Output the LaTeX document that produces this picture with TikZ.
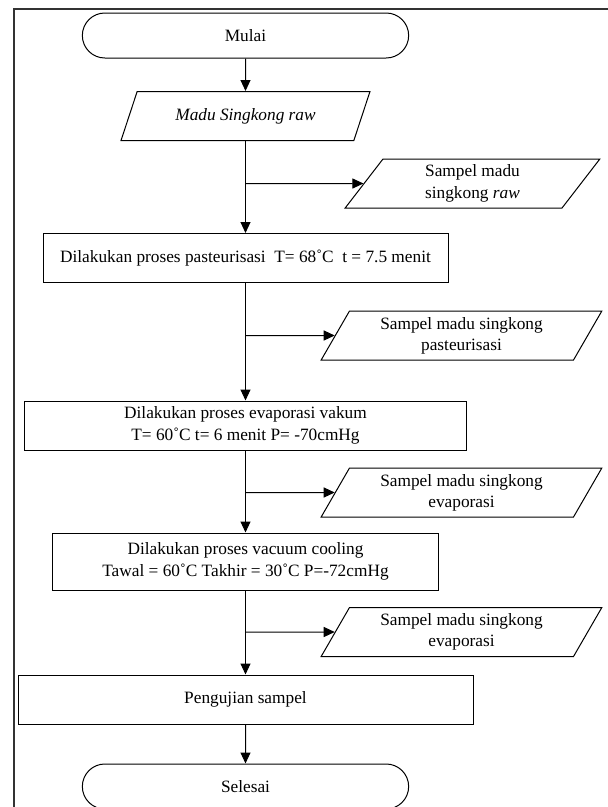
\documentclass[tikz,border=0pt]{standalone}
\usepackage{fontspec}
\setmainfont{Liberation Serif}
\usetikzlibrary{shapes.geometric,shapes.misc,arrows.meta}

\newcommand\spineX{245.5}

\tikzset{
  terminal/.style={draw, rounded rectangle, minimum width=333pt, minimum height=45pt},
  process/.style={draw, rectangle, align=center, minimum height=49pt},
  iobox/.style={draw, trapezium, trapezium left angle=63.9, trapezium right angle=116.1,
    trapezium stretches=true, align=center, minimum height=49pt},
  flow/.style={-{Triangle[length=11pt,width=10pt]}}
}

\begin{document}
\begin{tikzpicture}[x=1pt, y=-1pt, line width=1pt, font={\fontsize{17.3}{21.3}\selectfont}]
    % page and outer frame
    \useasboundingbox (0,0) rectangle (608,807);
    \clip (0,0) rectangle (608,807);
    \draw[line width=1.3pt, black!80] (14,9) rectangle (640,840);

    % main column
    \node[terminal] (start) at (\spineX,35.5) {Mulai};
    \node[iobox, minimum width=249pt] (raw) at (\spineX,116) {\textit{Madu Singkong raw}};
    \node[process, minimum width=405pt] (pasteur) at (\spineX,258)
      {Dilakukan proses pasteurisasi\ \ T= 68˚C\ \ t = 7.5 menit};
    \node[process, minimum width=442pt] (evap) at (\spineX,425.5)
      {Dilakukan proses evaporasi vakum\\T= 60˚C t= 6 menit P= -70cmHg};
    \node[process, minimum width=386pt, minimum height=57pt] (cool) at (\spineX,561.5)
      {Dilakukan proses vacuum cooling\\Tawal = 60˚C Takhir = 30˚C P=-72cmHg};
    \node[process, minimum width=455pt] (test) at (\spineX,699.5) {Pengujian sampel};
    \node[terminal] (stop) at (\spineX,786.5) {Selesai};

    % sample outputs
    \node[iobox, minimum width=255pt] (s1) at (472.5,183.5) {Sampel madu\\singkong \textit{raw}};
    \foreach \n/\y/\txt in {s2/335.5/pasteurisasi, s3/492.5/evaporasi, s4/632/evaporasi} {
      \node[iobox, minimum width=281pt] (\n) at (461.5,\y) {Sampel madu singkong\\\txt};
    }

    % main flow
    \draw[flow] (start) -- (raw);
    \draw[flow] (raw) -- (pasteur);
    \draw[flow] (pasteur) -- (evap);
    \draw[flow] (evap) -- (cool);
    \draw[flow] (cool) -- (test);
    \draw[flow] (test) -- (stop);

    % branches to the samples
    \foreach \s in {s1,s2,s3,s4} {
      \draw[flow] (start.south |- \s) -- (\s);
    }
\end{tikzpicture}
\end{document}
